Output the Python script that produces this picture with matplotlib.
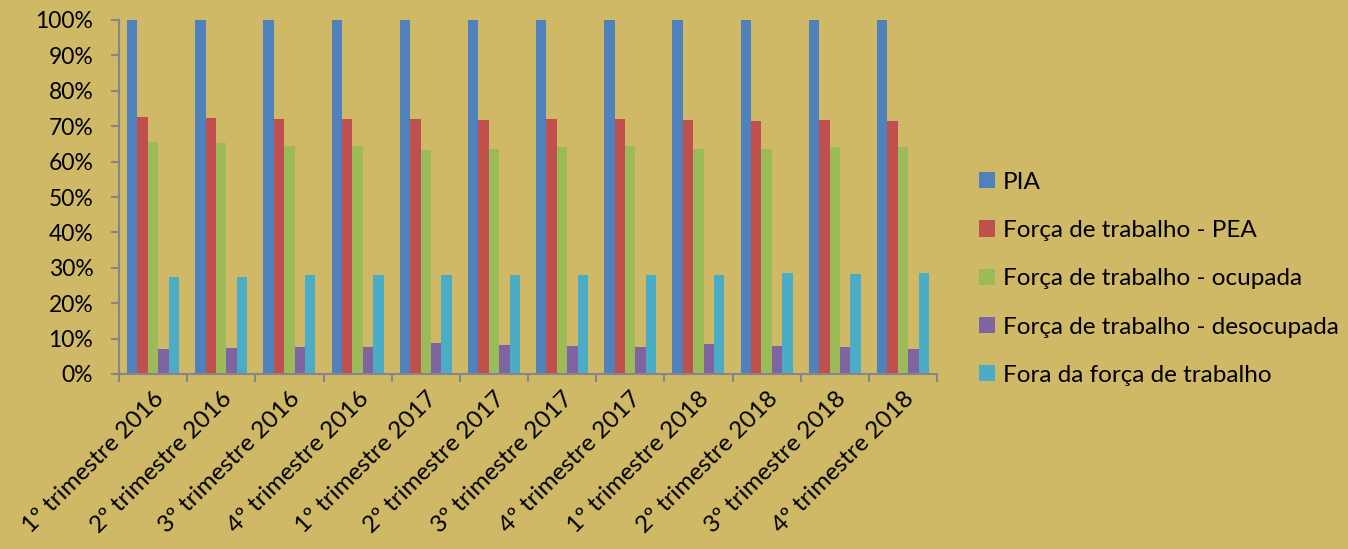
import numpy as np
import matplotlib.pyplot as plt

plt.rcParams['font.family'] = ['Lato', 'DejaVu Sans']

trimestres = ['1º trimestre 2016', '2º trimestre 2016', '3º trimestre 2016', '4º trimestre 2016',
              '1º trimestre 2017', '2º trimestre 2017', '3º trimestre 2017', '4º trimestre 2017',
              '1º trimestre 2018', '2º trimestre 2018', '3º trimestre 2018', '4º trimestre 2018']

pia = [100, 100, 100, 100, 100, 100, 100, 100, 100, 100, 100, 100]
pea = [72.6, 72.4, 71.9, 71.9, 71.9, 71.8, 71.9, 71.9, 71.8, 71.4, 71.8, 71.5]
ocupada = [65.6, 65.3, 64.4, 64.3, 63.2, 63.6, 64.0, 64.4, 63.5, 63.5, 64.2, 64.2]
desocupada = [7.0, 7.3, 7.5, 7.7, 8.8, 8.2, 7.9, 7.5, 8.4, 7.9, 7.5, 7.2]
fora = [27.3, 27.4, 28.0, 28.0, 28.0, 28.0, 28.0, 28.0, 28.0, 28.5, 28.2, 28.4]

series = [pia, pea, ocupada, desocupada, fora]
nomes = ['PIA', 'Força de trabalho - PEA', 'Força de trabalho - ocupada',
         'Força de trabalho - desocupada', 'Fora da força de trabalho']
cores = ['#4F81BD', '#C0504D', '#9BBB59', '#8064A2', '#4BACC6']

bg = '#CFB966'
axis_grey = '#868686'

fig = plt.figure(figsize=(13.48, 5.49), dpi=100, facecolor=bg)
ax = fig.add_axes([119 / 1348, 1 - 374 / 549, (937 - 119) / 1348, (374 - 20) / 549])
ax.set_facecolor(bg)

x = np.arange(len(trimestres))
w = 0.153
for i, (vals, nome, cor) in enumerate(zip(series, nomes, cores)):
    ax.bar(x + (i - 2) * w, vals, w, color=cor, label=nome, zorder=2)

ax.set_xlim(-0.5, len(trimestres) - 0.5)
ax.set_ylim(0, 100)
ax.set_yticks(np.arange(0, 101, 10))
ax.set_yticklabels([f'{v}%' for v in range(0, 101, 10)], fontsize=16.5)

ax.set_xticks(x)
ax.set_xticklabels(trimestres, rotation=45, ha='right', rotation_mode='anchor', fontsize=17.5)
ax.set_xticks(np.arange(-0.5, len(trimestres)), minor=True)
ax.tick_params(axis='x', which='major', length=0, pad=10)
ax.tick_params(axis='x', which='minor', length=6, width=1.5, color=axis_grey, direction='out')
ax.tick_params(axis='y', length=6, width=1.5, color=axis_grey, direction='out', pad=12.5)

for s in ['top', 'right']:
    ax.spines[s].set_visible(False)
for s in ['left', 'bottom']:
    ax.spines[s].set_color(axis_grey)
    ax.spines[s].set_linewidth(1.5)

leg = fig.legend(loc='upper left', bbox_to_anchor=(957 / 1348, 1 - 150 / 549), frameon=False,
                 fontsize=17.5, handlelength=0.65, handleheight=0.65, handletextpad=0.35,
                 labelspacing=1.12)

fig.savefig('out.png', dpi=100, facecolor=bg)
